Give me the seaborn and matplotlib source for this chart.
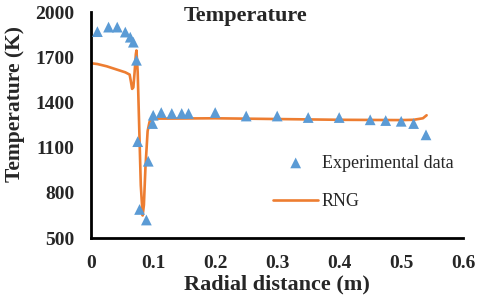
import matplotlib
matplotlib.use("Agg")
import matplotlib.pyplot as plt
import pandas as pd
import seaborn as sns

# experimental points
exp_x = [0.01, 0.028, 0.042, 0.055, 0.063, 0.068, 0.073, 0.075, 0.078, 0.089, 0.092,
         0.099, 0.1, 0.113, 0.13, 0.146, 0.157, 0.2, 0.25, 0.3, 0.35, 0.4, 0.45,
         0.475, 0.5, 0.52, 0.54]
exp_t = [1870, 1900, 1900, 1867, 1833, 1800, 1680, 1140, 690, 620, 1010,
         1260, 1315, 1333, 1327, 1327, 1327, 1333, 1310, 1310, 1300, 1300, 1285,
         1280, 1275, 1260, 1185]

# RNG model curve
rng_x = [0.0, 0.01, 0.025, 0.04, 0.055, 0.062, 0.064, 0.066, 0.068, 0.070, 0.072,
         0.073, 0.075, 0.078, 0.080, 0.083, 0.085, 0.0875, 0.091, 0.094, 0.097,
         0.1, 0.105, 0.12, 0.2, 0.3, 0.4, 0.5, 0.52, 0.535, 0.541]
rng_t = [1660, 1655, 1640, 1620, 1600, 1585, 1540, 1490, 1500, 1600, 1720,
         1745, 1600, 1150, 850, 650, 720, 970, 1210, 1270, 1290,
         1292, 1293, 1293, 1295, 1290, 1285, 1283, 1285, 1295, 1315]

x_ticks = [0, 0.1, 0.2, 0.3, 0.4, 0.5, 0.6]
x_tick_labels = ["0", "0.1", "0.2", "0.3", "0.4", "0.5", "0.6"]
y_ticks = [500, 800, 1100, 1400, 1700, 2000]

exp_df = pd.DataFrame({"r": exp_x, "T": exp_t})
rng_df = pd.DataFrame({"r": rng_x, "T": rng_t})

sns.set_style("white")
plt.rcParams["font.family"] = ["Liberation Serif", "DejaVu Serif"]

fig = plt.figure(figsize=(4.8, 3.01), dpi=100)
ax = fig.add_axes([0.19, 0.209, 0.775, 0.751])

sns.lineplot(data=rng_df, x="r", y="T", ax=ax, color="#ED7D31", linewidth=1.9,
             sort=False, label="RNG", zorder=2)
sns.scatterplot(data=exp_df, x="r", y="T", ax=ax, color="#5B9BD5", marker="^",
                s=60, edgecolor="none", label="Experimental data", zorder=3)

ax.set_xlim(0, 0.6)
ax.set_ylim(500, 2000)
ax.set_xticks(x_ticks)
ax.set_xticklabels(x_tick_labels)
ax.set_yticks(y_ticks)
ax.tick_params(length=0, labelsize=14, pad=12)
for lbl in ax.get_xticklabels() + ax.get_yticklabels():
    lbl.set_fontweight("bold")

ax.set_xlabel("Radial distance (m)", fontsize=16, fontweight="bold", va="top")
ax.set_ylabel("Temperature (K)", fontsize=15.5, fontweight="bold")
ax.xaxis.set_label_coords(0.5, -0.16)
ax.yaxis.set_label_coords(-0.177, 0.593)
ax.text(0.414, 0.96, "Temperature", transform=ax.transAxes, fontsize=16,
        fontweight="bold", ha="center", va="baseline")

for s in ["top", "right"]:
    ax.spines[s].set_visible(False)
for s in ["left", "bottom"]:
    ax.spines[s].set_linewidth(2)
    ax.spines[s].set_color("black")

handles, labels = ax.get_legend_handles_labels()
ax.legend(handles[::-1], labels[::-1], frameon=False, fontsize=13,
          loc="center left", bbox_to_anchor=(0.489, 0.246), labelspacing=1.2,
          handlelength=2.5, handletextpad=0.2, borderpad=0, borderaxespad=0)

fig.savefig("out.png", dpi=100)
